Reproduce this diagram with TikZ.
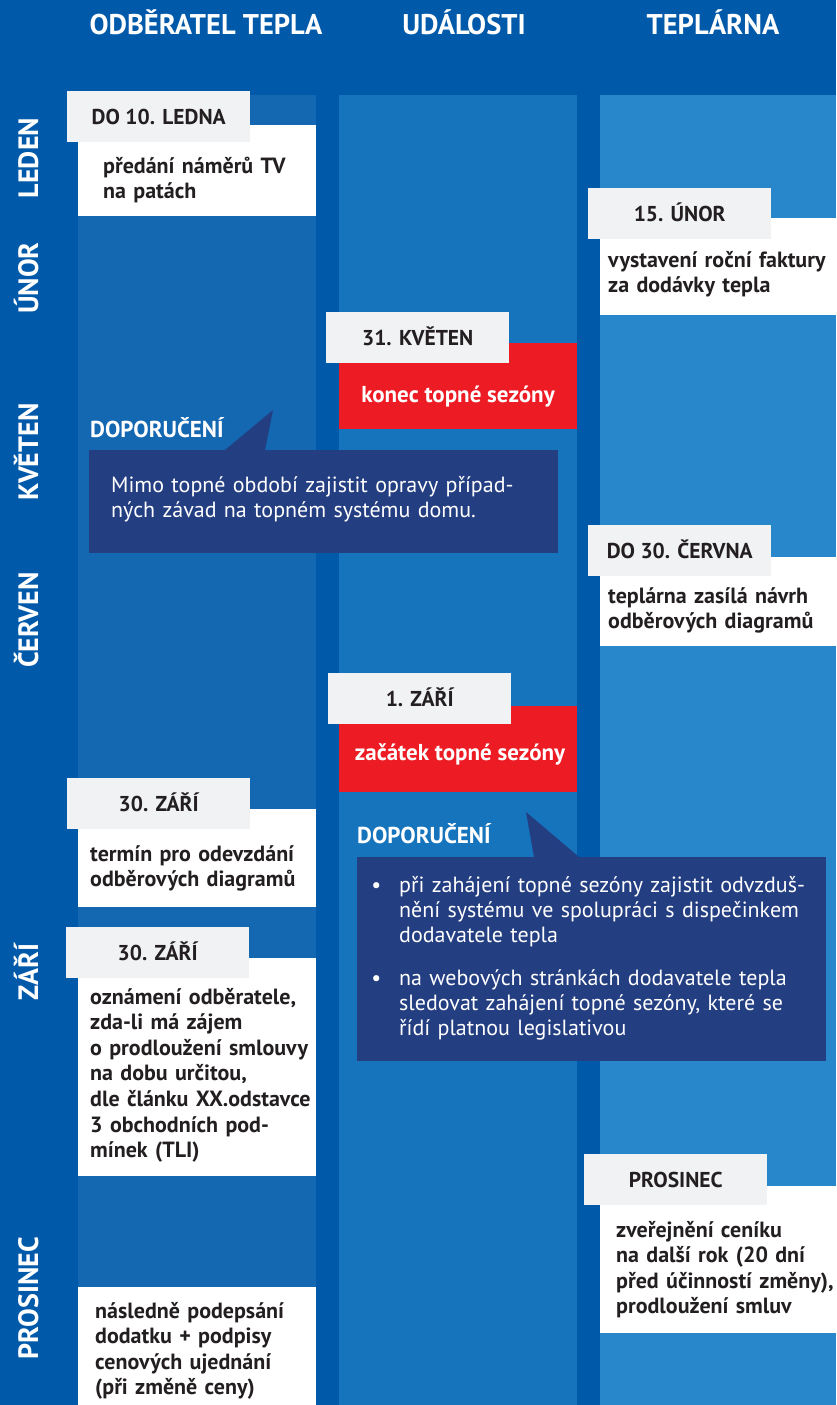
\documentclass[tikz,border=0pt]{standalone}
\usepackage{fontspec}
\setmainfont{PT Sans}
\setlength{\parindent}{0pt}
\definecolor{bgblue}{HTML}{0059A9}
\definecolor{laneA}{HTML}{1467B1}
\definecolor{laneB}{HTML}{1574BC}
\definecolor{laneC}{HTML}{2886CA}
\definecolor{tabgrey}{HTML}{F1F2F4}
\definecolor{seasonred}{HTML}{ED1C24}
\definecolor{notenavy}{HTML}{243E82}
\definecolor{ink}{HTML}{231F20}
\newcommand{\headfont}{\fontsize{28.5}{32}\selectfont\bfseries}
\newcommand{\monthfont}{\fontsize{28}{30}\selectfont\bfseries}
\newcommand{\tabfont}{\fontsize{21.5}{24}\selectfont\bfseries}
\newcommand{\cardfont}{\fontsize{22}{25.6}\selectfont\bfseries}
\newcommand{\seasonfont}{\fontsize{23}{26}\selectfont\bfseries}
\newcommand{\notefont}{\fontsize{22}{25}\selectfont}
\begin{document}
\begin{tikzpicture}[x=1pt,y=-1pt,
  head/.style={text=white,font=\headfont,anchor=base,inner sep=0pt},
  month/.style={text=white,font=\monthfont,rotate=90,anchor=base,inner sep=0pt},
  tab/.style={fill=tabgrey,text=ink,font=\tabfont,minimum width=183pt,minimum height=51pt,
    inner sep=0pt,text height=15pt,text depth=0pt,anchor=north west},
  card/.style={fill=white,minimum width=238pt,inner sep=0pt,anchor=north west},
  season/.style={fill=seasonred,minimum width=238pt,minimum height=86pt,inner sep=0pt,anchor=north west},
  seasontxt/.style={text=white,font=\seasonfont,anchor=base,inner sep=0pt},
  lbl/.style={text=ink,font=\cardfont,text width=226pt,align=left,anchor=base west,inner sep=0pt},
  note/.style={fill=notenavy,minimum width=469pt,inner sep=0pt,anchor=north west},
  notehead/.style={text=white,font=\fontsize{23}{26}\selectfont\bfseries,anchor=base west,inner sep=0pt},
  notetxt/.style={text=white,font=\notefont,align=left,anchor=base west,inner sep=0pt}]
  \useasboundingbox (0,0) rectangle (836,1405);
  \fill[bgblue] (0,0) rectangle (836,1405);
  \foreach \xa/\xb/\c in {78/316/laneA,339/577/laneB,600/836/laneC}
    \fill[\c] (\xa,95) rectangle (\xb,1405);
  \node[head] (hCust) at (206,35) {ODBĚRATEL TEPLA};
  \node[head] (hEvent) at (464,35) {UDÁLOSTI};
  \node[head] (hPlant) at (713,35) {TEPLÁRNA};
  \foreach \m/\y [count=\i] in {LEDEN/158,ÚNOR/278,KVĚTEN/452,ČERVEN/620,ZÁŘÍ/972,PROSINEC/1298}
    \node[month] (month\i) at (38,\y) {\m};

  \node[note,minimum height=103pt] (n1) at (89,450) {};
  \fill[notenavy] (225,450) -- (273,410) -- (265,450) -- cycle;
  \node[notehead] (n1head) at (90,437) {DOPORUČENÍ};
  \node[notetxt,text width=440pt] (n1txt) at (111,492) {Mimo topné období zajistit opravy případ-\\ných závad na topném systému domu.};

  \node[note,minimum height=204pt] (n2) at (357,857) {};
  \fill[notenavy] (534,857) -- (526,812) -- (579,857) -- cycle;
  \node[notehead] (n2head) at (357,843) {DOPORUČENÍ};
  \node[notetxt,text width=407pt] (n2a) at (399,892) {%
    \llap{•\hspace{18pt}}\makebox[407pt][s]{při zahájení topné sezóny zajistit odvzduš-}\\
    \makebox[407pt][s]{nění systému ve spolupráci s dispečinkem}\\
    dodavatele tepla};
  \node[notetxt,text width=407pt] (n2b) at (399,985) {%
    \llap{•\hspace{18pt}}\makebox[407pt][s]{na webových stránkách dodavatele tepla}\\
    \makebox[407pt][s]{sledovat zahájení topné sezóny, které se}\\
    řídí platnou legislativou};

  \node[card,minimum height=91pt] (c1) at (78,125) {};
  \node[tab] (t1) at (67,91) {DO 10. LEDNA};
  \node[lbl] (l1) at (103,173) {předání náměrů TV\\na patách};

  \node[card,minimum width=236pt,minimum height=97pt] (c2) at (600,218) {};
  \node[tab] (t2) at (588,188) {15. ÚNOR};
  \node[lbl] (l2) at (608,267) {vystavení roční faktury\\za dodávky tepla};

  \node[season] (r1) at (339,343) {};
  \node[tab] (t3) at (326,312) {31. KVĚTEN};
  \node[seasontxt] (s1) at (458,402) {konec topné sezóny};

  \node[card,minimum width=236pt,minimum height=89pt] (c3) at (600,557) {};
  \node[tab] (t4) at (588,525) {DO 30. ČERVNA};
  \node[lbl] (l3) at (608,603) {teplárna zasílá návrh\\odběrových diagramů};

  \node[season] (r2) at (339,706) {};
  \node[tab] (t5) at (328,673) {1. ZÁŘÍ};
  \node[seasontxt] (s2) at (460,760) {začátek topné sezóny};

  \node[card,minimum height=98pt] (c4) at (78,809) {};
  \node[tab] (t6) at (67,778) {30. ZÁŘÍ};
  \node[lbl] (l4) at (90,861) {termín pro odevzdání\\odběrových diagramů};

  \node[card,minimum height=218pt] (c5) at (78,958) {};
  \node[tab] (t7) at (66,927) {30. ZÁŘÍ};
  \node[lbl] (l5) at (90,1004) {oznámení odběratele,\\zda-li má zájem\\o prodloužení smlouvy\\na dobu určitou,\\dle článku XX.odstavce\\3 obchodních pod-\\mínek (TLI)};

  \node[card,minimum width=236pt,minimum height=147pt] (c6) at (600,1186) {};
  \node[tab] (t8) at (584,1154) {PROSINEC};
  \node[lbl] (l6) at (616,1237) {zveřejnění ceníku\\na další rok (20 dní\\před účinností změny),\\prodloužení smluv};

  \node[card,minimum height=118pt] (c7) at (78,1287) {};
  \node[lbl] (l7) at (95,1318) {následně podepsání\\dodatku + podpisy\\cenových ujednání\\(při změně ceny)};
\end{tikzpicture}
\end{document}
